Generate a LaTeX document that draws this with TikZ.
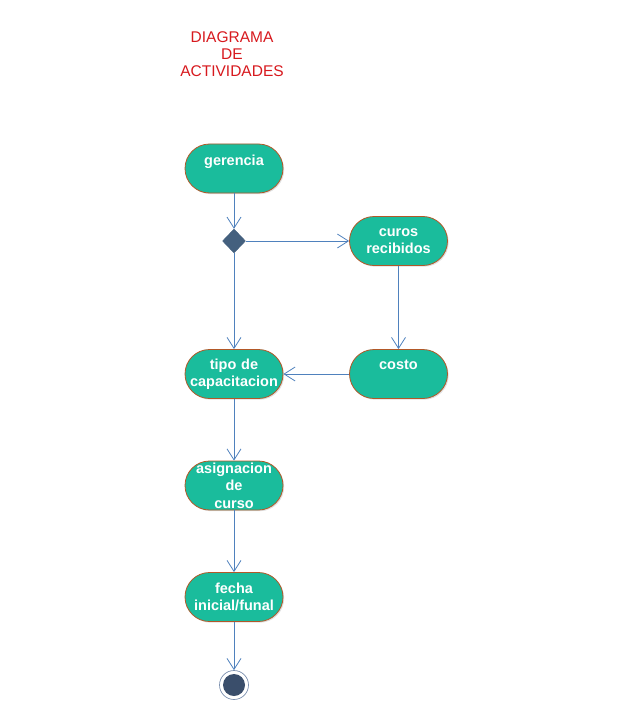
\documentclass[tikz,border=0pt]{standalone}
\usepackage{fontspec}
\setmainfont{Liberation Sans}
\usetikzlibrary{arrows.meta,shapes.geometric,shadows}
\definecolor{actfill}{RGB}{26,188,156}
\definecolor{actborder}{RGB}{178,88,40}
\definecolor{flow}{RGB}{79,129,189}
\definecolor{decfill}{RGB}{68,96,126}
\definecolor{endfill}{RGB}{58,78,107}
\definecolor{endring}{RGB}{125,145,175}
\definecolor{titlered}{RGB}{215,25,30}
\tikzset{
  activity/.style={rectangle, rounded corners=24.5pt, fill=actfill, draw=actborder, line width=0.8pt,
    minimum width=98pt, minimum height=49pt, inner sep=0pt, text width=98pt, align=center,
    text=white, font=\bfseries\fontsize{14.5}{17.5}\selectfont,
    drop shadow={shadow xshift=1.2pt, shadow yshift=-1.2pt, opacity=0.25}},
  decision/.style={diamond, fill=decfill, draw=decfill, minimum width=23pt, minimum height=24pt, inner sep=0pt},
  finalnode/.style={circle, draw=endring, line width=0.7pt, minimum size=29pt, inner sep=0pt,
    path picture={\fill[endfill] (path picture bounding box.center) circle (11pt);}},
  flowarrow/.style={draw=flow, line width=0.8pt, -{Straight Barb[length=11pt,width=14pt]}},
  titletext/.style={align=center, text=titlered, font=\fontsize{15.5}{17}\selectfont}
}
\begin{document}
\begin{tikzpicture}[x=1pt,y=-1pt]
\useasboundingbox (0,0) rectangle (622,714);
\node[titletext] (title) at (232,54) {DIAGRAMA\\DE\\ACTIVIDADES};
\node[activity] (ger) at (234,168.5) {gerencia\\\mbox{}};
\node[decision] (dec) at (234,241) {};
\node[activity] (cur) at (398.5,241) {curos\\recibidos};
\node[activity] (cos) at (398.5,374) {costo\\\mbox{}};
\node[activity] (tip) at (234,374) {tipo de\\capacitacion};
\node[activity] (asi) at (234,485.5) {asignacion\\de\\curso};
\node[activity] (fec) at (234,597) {fecha\\inicial/funal};
\node[finalnode] (fin) at (234,685) {};
\draw[flowarrow] (ger) -- (dec);
\draw[flowarrow] (dec) -- (cur);
\draw[flowarrow] (dec) -- (tip);
\draw[flowarrow] (cur) -- (cos);
\draw[flowarrow] (cos) -- (tip);
\draw[flowarrow] (tip) -- (asi);
\draw[flowarrow] (asi) -- (fec);
\draw[flowarrow] (fec) -- (fin);
\end{tikzpicture}
\end{document}
